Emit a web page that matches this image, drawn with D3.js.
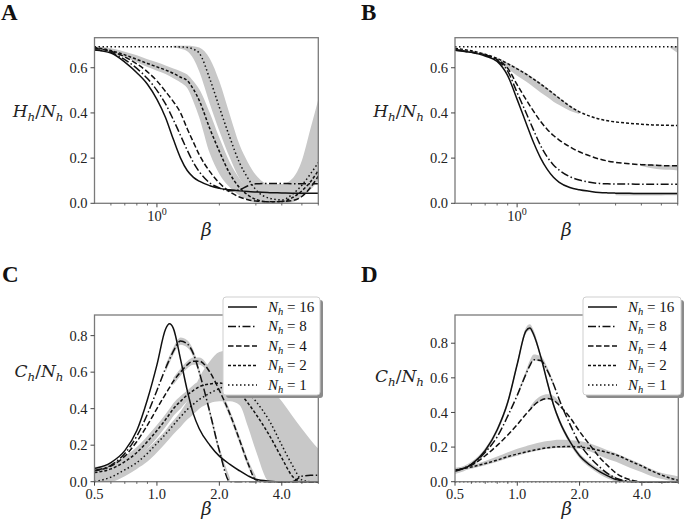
<!DOCTYPE html>
<html><head><meta charset="utf-8">
<script src="https://cdn.jsdelivr.net/npm/d3@7"></script>
<style>body{margin:0;background:#fff}svg{display:block}</style>
</head><body>
<svg id="chart" width="685" height="521"></svg>
<script>
// ---------------- data ----------------
const betaH = [0.5,0.6,0.7,0.8,0.9,1.0,1.1,1.2,1.3,1.4,1.5,1.6,1.8,2.0,2.25,2.5,2.75,3.0,3.5,4.0,4.5,5.0,5.5,6.0];
const betaC = [0.5,0.6,0.7,0.8,0.9,1.0,1.1,1.15,1.2,1.3,1.4,1.5,1.6,1.8,2.0,2.25,2.5,2.75,3.0,3.5,4.0,4.5,5.0,5.5,6.0];
const nhLabels = ["16","8","4","2","1"];
const yTicksH = [0, 0.2, 0.4, 0.6];
const yTicksC = [0, 0.2, 0.4, 0.6, 0.8];
const xTicksH = [1];
const xMinorH = [0.6,0.7,0.8,0.9,2,3,4,5,6];
const xTicksC = [0.5, 1, 2, 4];
const xMinorC = [0.6,0.7,0.8,0.9,3,5,6];

// Panel A : H_h/N_h
const hA16 = [0.678,0.665,0.625,0.578,0.527,0.46,0.38,0.283,0.2,0.145,0.115,0.098,0.078,0.066,0.06,0.055,0.052,0.05,0.047,0.046,0.045,0.045,0.045,0.045];
const hA8  = [0.68,0.668,0.636,0.597,0.552,0.5,0.44,0.37,0.3,0.235,0.18,0.14,0.09,0.068,0.055,0.06,0.078,0.086,0.088,0.088,0.087,0.087,0.087,0.087];
const hA4  = [0.685,0.673,0.648,0.617,0.582,0.542,0.495,0.45,0.4,0.33,0.27,0.215,0.14,0.09,0.05,0.028,0.016,0.01,0.007,0.008,0.012,0.03,0.07,0.12];
const hA2  = [0.69,0.676,0.657,0.637,0.619,0.604,0.59,0.575,0.558,0.543,0.505,0.455,0.33,0.23,0.13,0.07,0.036,0.017,0.006,0.008,0.025,0.055,0.095,0.145];
const hA1  = [0.693,0.693,0.693,0.693,0.693,0.693,0.693,0.693,0.692,0.69,0.682,0.665,0.55,0.425,0.29,0.18,0.11,0.06,0.022,0.015,0.04,0.08,0.13,0.18];
const hA2lo = [0.684,0.668,0.646,0.624,0.603,0.587,0.572,0.553,0.535,0.51,0.45,0.38,0.22,0.13,0.07,0.035,0.015,0.003,0,null,null,null,null,null];
const hA2hi = [0.695,0.686,0.671,0.655,0.638,0.624,0.61,0.597,0.585,0.57,0.54,0.505,0.4,0.29,0.18,0.11,0.065,0.04,0.02,null,null,null,null,null];
const hA1lo = [null,null,null,null,null,null,null,0.69,0.684,0.673,0.64,0.583,0.44,0.32,0.2,0.11,0.06,0.025,0.005,0,0.005,0.03,0.06,0.1];
const hA1hi = [null,null,null,null,null,null,null,0.697,0.697,0.697,0.695,0.69,0.64,0.54,0.39,0.26,0.18,0.125,0.085,0.085,0.11,0.19,0.33,0.46];

// Panel B : H_h/N_h
const hB16 = [0.678,0.668,0.652,0.628,0.565,0.46,0.36,0.27,0.2,0.15,0.115,0.093,0.07,0.06,0.053,0.048,0.046,0.045,0.044,0.043,0.043,0.043,0.043,0.043];
const hB8  = [0.678,0.668,0.655,0.632,0.585,0.49,0.405,0.325,0.255,0.205,0.17,0.147,0.118,0.103,0.093,0.088,0.086,0.085,0.085,0.084,0.084,0.084,0.084,0.084];
const hB4  = [0.68,0.67,0.657,0.636,0.598,0.525,0.462,0.408,0.362,0.327,0.3,0.28,0.25,0.228,0.21,0.196,0.187,0.181,0.175,0.171,0.169,0.167,0.166,0.166];
const hB2  = [0.686,0.675,0.66,0.641,0.618,0.595,0.573,0.55,0.528,0.506,0.485,0.465,0.43,0.405,0.386,0.373,0.365,0.36,0.354,0.35,0.347,0.346,0.345,0.344];
const hB1  = [0.693,0.693,0.693,0.693,0.693,0.693,0.693,0.693,0.693,0.693,0.693,0.693,0.693,0.693,0.693,0.693,0.693,0.693,0.693,0.693,0.693,0.693,0.693,0.693];
const hB2lo = [null,null,null,0.625,0.595,0.565,0.54,0.515,0.49,0.47,0.45,0.435,0.41,0.395,null,null,null,null,null,null,null,null,null,null];
const hB2hi = [null,null,null,0.645,0.622,0.6,0.578,0.555,0.532,0.51,0.488,0.468,0.433,0.408,null,null,null,null,null,null,null,null,null,null];
const hB4lo = [null,null,null,null,null,null,null,null,null,null,null,null,null,null,null,null,null,null,null,0.165,0.155,0.15,0.148,0.145];
const hB4hi = [null,null,null,null,null,null,null,null,null,null,null,null,null,null,null,null,null,null,null,0.175,0.173,0.17,0.168,0.168];
const hB16lo = [null,null,null,null,null,null,null,null,null,null,null,null,null,null,null,null,null,0.036,0.035,0.035,0.035,0.035,0.036,0.036];
const hB16hi = [null,null,null,null,null,null,null,null,null,null,null,null,null,null,null,null,null,0.047,0.047,0.047,0.047,0.047,0.047,0.047];
const hB1lo = [null,null,null,null,null,null,null,null,null,null,null,null,null,null,null,null,null,null,null,null,null,null,0.69,0.665];
const hB1hi = [null,null,null,null,null,null,null,null,null,null,null,null,null,null,null,null,null,null,null,null,null,null,0.695,0.695];

// Panel C : C_h/N_h
const cC16 = [0.072,0.105,0.17,0.28,0.45,0.64,0.835,0.865,0.84,0.67,0.5,0.37,0.29,0.2,0.14,0.095,0.06,0.032,0.013,0.003,0,0,0,0,0];
const cC8  = [0.062,0.09,0.155,0.25,0.37,0.5,0.62,0.67,0.715,0.77,0.755,0.7,0.6,0.38,0.17,0,0,0,0,0,0,0,0.03,0.035,0.035];
const cC4  = [0.06,0.085,0.14,0.22,0.31,0.4,0.48,0.515,0.55,0.6,0.64,0.66,0.66,0.6,0.5,0.37,0.23,0.1,0.01,0,0,0,0,0,0];
const cC2  = [0.05,0.07,0.11,0.16,0.22,0.28,0.34,0.37,0.4,0.44,0.475,0.5,0.52,0.535,0.54,0.525,0.485,0.43,0.37,0.25,0.13,0.03,0,0,0];
const cC1  = [0,0.025,0.065,0.105,0.155,0.21,0.26,0.285,0.31,0.355,0.395,0.425,0.45,0.485,0.51,0.53,0.52,0.49,0.44,0.33,0.2,0.09,0.01,0,0];
const cC8lo = [null,null,null,null,null,null,0.6,0.65,0.695,0.75,0.735,0.68,0.58,0.36,0.15,0,null,null,null,null,null,null,null,null,null];
const cC8hi = [null,null,null,null,null,null,0.64,0.69,0.735,0.79,0.775,0.72,0.62,0.4,0.19,0.02,null,null,null,null,null,null,null,null,null];
const cC4lo = [null,null,null,null,null,null,null,null,0.53,0.58,0.62,0.64,0.64,0.58,0.48,0.35,0.21,0.08,0,null,null,null,null,null,null];
const cC4hi = [null,null,null,null,null,null,null,null,0.57,0.62,0.66,0.68,0.68,0.62,0.52,0.39,0.25,0.12,0.03,null,null,null,null,null,null];
const cC2lo = [0.02,0.04,0.08,0.12,0.18,0.24,0.3,0.33,0.36,0.4,0.44,0.47,0.49,0.51,0.52,null,null,null,null,null,null,null,null,null,null];
const cC2hi = [0.08,0.1,0.14,0.19,0.25,0.31,0.37,0.4,0.43,0.47,0.5,0.53,0.55,0.56,0.56,null,null,null,null,null,null,null,null,null,null];
const cC1lo = [0,0,0.03,0.07,0.11,0.16,0.21,0.235,0.26,0.3,0.34,0.37,0.4,0.43,0.44,0.44,0.42,0.3,0.17,0,0,0,0,0,0];
const cC1hi = [0.03,0.05,0.09,0.13,0.18,0.23,0.28,0.31,0.335,0.385,0.44,0.5,0.57,0.66,0.71,0.72,0.7,0.66,0.61,0.52,0.44,0.36,0.29,0.23,0.18];

// Panel D : C_h/N_h
const cD16 = [0.06,0.1,0.18,0.3,0.46,0.68,0.87,0.888,0.85,0.72,0.57,0.44,0.35,0.23,0.15,0.095,0.058,0.032,0.012,0,0,0,0,0,0];
const cD8  = [0.065,0.1,0.17,0.26,0.38,0.5,0.62,0.67,0.705,0.7,0.64,0.56,0.47,0.33,0.22,0.14,0.085,0.045,0.02,0.003,0,0,0,0,0];
const cD4  = [0.065,0.095,0.15,0.21,0.27,0.33,0.39,0.415,0.44,0.47,0.48,0.47,0.44,0.37,0.29,0.21,0.14,0.09,0.05,0.012,0,0,0,0,0];
const cD2  = [0.067,0.085,0.105,0.125,0.145,0.16,0.172,0.177,0.182,0.19,0.196,0.2,0.202,0.203,0.2,0.192,0.18,0.168,0.155,0.12,0.09,0.06,0.038,0.02,0.008];
const cD1  = [0,0,0,0,0,0,0,0,0,0,0,0,0,0,0,0,0,0,0,0,0,0,0,0,0];
const cD16lo = [0.045,0.085,0.165,0.285,0.445,0.665,0.855,0.875,0.835,0.705,0.555,0.425,0.335,0.215,0.135,0.08,0.043,0.017,0,null,null,null,null,null,null];
const cD16hi = [0.075,0.115,0.195,0.315,0.475,0.695,0.89,0.91,0.875,0.735,0.585,0.455,0.365,0.245,0.165,0.11,0.073,0.047,0.027,null,null,null,null,null,null];
const cD8lo = [null,null,null,null,null,0.49,0.61,0.665,0.7,0.69,0.63,0.55,null,null,null,null,null,null,null,null,null,null,null,null,null];
const cD8hi = [null,null,null,null,null,0.51,0.64,0.7,0.735,0.725,0.66,0.57,null,null,null,null,null,null,null,null,null,null,null,null,null];
const cD4lo = [null,null,null,null,null,null,null,0.41,0.435,0.465,0.475,0.465,0.435,null,null,null,null,null,null,null,null,null,null,null,null];
const cD4hi = [null,null,null,null,null,null,null,0.43,0.46,0.495,0.505,0.495,0.46,null,null,null,null,null,null,null,null,null,null,null,null];
const cD2lo = [0.055,0.075,0.095,0.115,0.135,0.15,0.165,0.17,0.175,0.183,0.19,0.193,0.195,0.195,0.19,0.175,0.15,0.13,0.115,0.08,0.055,0.03,0.015,0.005,0];
const cD2hi = [0.08,0.095,0.12,0.145,0.17,0.19,0.205,0.212,0.218,0.228,0.235,0.24,0.242,0.24,0.235,0.22,0.2,0.18,0.165,0.13,0.1,0.07,0.05,0.04,0.03];

// ---------------- drawing ----------------
const svg = d3.select("#chart");
const SERIF = "'Liberation Serif','DejaVu Serif',serif";
const MATH = "'DejaVu Serif','Liberation Serif',serif";
const lineColor = "#111";
const bandColor = "#c8c8c8";
const styles = [
  {dash: null},
  {dash: "8,2.5,1.5,2.5"},
  {dash: "5.5,2.5"},
  {dash: "3,2"},
  {dash: "1.5,2.5"}
];

const panels = [
  {id:"A", letter:"A", lx:1, ly:20, x0:94.5, x1:318.3, y0:37.7, y1:203.3, ymax:0.733, beta:betaH, sym:"H",
   series:[hA16,hA8,hA4,hA2,hA1], bands:[[hA2lo,hA2hi],[hA1lo,hA1hi]], yticks:yTicksH, xt:"H", labY:112, legend:false},
  {id:"B", letter:"B", lx:361, ly:20, x0:455, x1:677.7, y0:37.7, y1:203.3, ymax:0.733, beta:betaH, sym:"H",
   series:[hB16,hB8,hB4,hB2,hB1], bands:[[hB2lo,hB2hi],[hB4lo,hB4hi],[hB16lo,hB16hi],[hB1lo,hB1hi]], yticks:yTicksH, xt:"H", labY:112, legend:false},
  {id:"C", letter:"C", lx:2, ly:282, x0:94.5, x1:318.3, y0:315, y1:481.7, ymax:0.913, beta:betaC, sym:"C",
   series:[cC16,cC8,cC4,cC2,cC1], bands:[[cC1lo,cC1hi],[cC2lo,cC2hi],[cC4lo,cC4hi],[cC8lo,cC8hi]], yticks:yTicksC, xt:"C", labY:372, legend:{x:223,y:297,w:97,h:98}},
  {id:"D", letter:"D", lx:361, ly:282, x0:455, x1:678.3, y0:315, y1:481.7, ymax:0.963, beta:betaC, sym:"C",
   series:[cD16,cD8,cD4,cD2,cD1], bands:[[cD2lo,cD2hi],[cD16lo,cD16hi],[cD8lo,cD8hi],[cD4lo,cD4hi]], yticks:yTicksC, xt:"C", labY:377, legend:{x:583,y:297,w:98,h:98}}
];

function mathLabel(t, sym, size) {
  t.append("tspan").attr("font-style","italic").text(sym);
  t.append("tspan").attr("font-style","italic").attr("font-size", size*0.7).attr("dy", size*0.22).text("h");
  t.append("tspan").attr("dy", -size*0.22).text("/");
  t.append("tspan").attr("font-style","italic").text("N");
  t.append("tspan").attr("font-style","italic").attr("font-size", size*0.7).attr("dy", size*0.22).text("h");
}

panels.forEach(p => {
  const x = d3.scaleLog().domain([0.5, 6]).range([p.x0, p.x1]);
  const y = d3.scaleLinear().domain([0, p.ymax]).range([p.y1, p.y0]);
  const g = svg.append("g");
  const clipId = "clip" + p.id;
  svg.append("clipPath").attr("id", clipId).append("rect")
    .attr("x", p.x0).attr("y", p.y0 - 1).attr("width", p.x1 - p.x0).attr("height", p.y1 - p.y0 + 2);
  const plot = g.append("g").attr("clip-path", `url(#${clipId})`);

  // bands
  p.bands.forEach(([lo, hi]) => {
    const area = d3.area()
      .defined((d, i) => lo[i] != null && hi[i] != null)
      .x(d => x(d))
      .y0((d, i) => y(lo[i]))
      .y1((d, i) => y(hi[i]))
      .curve(d3.curveMonotoneX);
    plot.append("path").attr("d", area(p.beta)).attr("fill", bandColor).attr("stroke", "none");
  });

  // lines
  p.series.forEach((vals, k) => {
    const line = d3.line().x(d => x(d)).y((d, i) => y(vals[i])).curve(d3.curveMonotoneX);
    plot.append("path").attr("d", line(p.beta))
      .attr("fill", "none").attr("stroke", lineColor).attr("stroke-width", 1.5)
      .attr("stroke-dasharray", styles[k].dash);
  });

  // frame
  g.append("rect").attr("x", p.x0).attr("y", p.y0).attr("width", p.x1 - p.x0).attr("height", p.y1 - p.y0)
    .attr("fill", "none").attr("stroke", "#7a7a7a").attr("stroke-width", 1.3);

  // y ticks
  p.yticks.forEach(v => {
    g.append("line").attr("x1", p.x0 - 4).attr("x2", p.x0).attr("y1", y(v)).attr("y2", y(v))
      .attr("stroke", "#444").attr("stroke-width", 1);
    g.append("text").attr("x", p.x0 - 7).attr("y", y(v)).attr("dy", "0.35em")
      .attr("text-anchor", "end").attr("font-family", SERIF).attr("font-size", 14.5).attr("fill", "#222")
      .text(v.toFixed(1));
  });

  // x ticks
  const majors = p.xt === "H" ? xTicksH : xTicksC;
  const minors = p.xt === "H" ? xMinorH : xMinorC;
  minors.forEach(v => {
    g.append("line").attr("x1", x(v)).attr("x2", x(v)).attr("y1", p.y1).attr("y2", p.y1 + 2.2)
      .attr("stroke", "#444").attr("stroke-width", 0.8);
  });
  majors.forEach(v => {
    g.append("line").attr("x1", x(v)).attr("x2", x(v)).attr("y1", p.y1).attr("y2", p.y1 + 4)
      .attr("stroke", "#444").attr("stroke-width", 1);
    const t = g.append("text").attr("x", x(v)).attr("y", p.y1 + 17.5)
      .attr("text-anchor", "middle").attr("font-family", SERIF).attr("font-size", 14.5).attr("fill", "#222");
    if (p.xt === "H") {
      t.append("tspan").text("10");
      t.append("tspan").attr("font-size", 10).attr("dy", -5.5).text("0");
    } else {
      t.text(v.toFixed(1));
    }
  });

  // axis labels
  const yl = g.append("text").attr("x", p.x0 - 31).attr("y", p.labY).attr("dy", "0.3em")
    .attr("text-anchor", "end").attr("font-family", MATH).attr("font-size", 17).attr("fill", "#222");
  mathLabel(yl, p.sym, 17);
  g.append("text").attr("x", (p.x0 + p.x1) / 2).attr("y", p.y1 + 33)
    .attr("text-anchor", "middle").attr("font-family", MATH).attr("font-style", "italic")
    .attr("font-size", 18).attr("fill", "#222").text("β");

  // panel letter
  g.append("text").attr("x", p.lx).attr("y", p.ly).attr("font-family", SERIF)
    .attr("font-weight", "bold").attr("font-size", 23).attr("fill", "#111").text(p.letter);

  // legend
  if (p.legend) {
    const L = p.legend;
    const lg = g.append("g");
    lg.append("rect").attr("x", L.x + 3).attr("y", L.y + 3).attr("width", L.w).attr("height", L.h)
      .attr("rx", 3).attr("fill", "#8a8a8a");
    lg.append("rect").attr("x", L.x).attr("y", L.y).attr("width", L.w).attr("height", L.h)
      .attr("rx", 3).attr("fill", "#fff").attr("stroke", "#cfcfcf").attr("stroke-width", 1);
    nhLabels.forEach((lab, k) => {
      const ry = L.y + 10 + k * 19.5;
      lg.append("line").attr("x1", L.x + 5).attr("x2", L.x + 34).attr("y1", ry).attr("y2", ry)
        .attr("stroke", lineColor).attr("stroke-width", 1.5).attr("stroke-dasharray", styles[k].dash);
      const t = lg.append("text").attr("x", L.x + 45).attr("y", ry).attr("dy", "0.33em")
        .attr("font-family", SERIF).attr("font-size", 15).attr("fill", "#111");
      t.append("tspan").attr("font-style", "italic").text("N");
      t.append("tspan").attr("font-style", "italic").attr("font-size", 10.5).attr("dy", 3).text("h");
      t.append("tspan").attr("dy", -3).text(" = " + lab);
    });
  }
});
</script>
</body></html>
